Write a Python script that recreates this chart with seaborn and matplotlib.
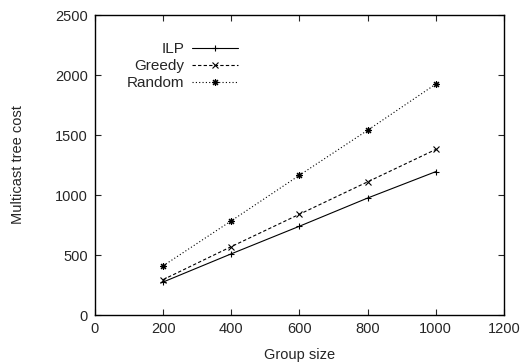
import matplotlib
matplotlib.use("Agg")
import matplotlib.pyplot as plt
import seaborn as sns
import pandas as pd

group_sizes = [200, 400, 600, 800, 1000]
ilp = [275, 510, 740, 975, 1195]
greedy = [295, 570, 840, 1110, 1380]
random_cost = [410, 785, 1165, 1540, 1925]
series_names = ["ILP", "Greedy", "Random"]

df = pd.DataFrame({
    "Group size": group_sizes * 3,
    "cost": ilp + greedy + random_cost,
    "Algorithm": [n for n in series_names for _ in group_sizes],
})

sns.set_style("ticks")
plt.rcParams["font.family"] = ["Liberation Sans", "DejaVu Sans"]
plt.rcParams["font.size"] = 10.5

fig = plt.figure(figsize=(5.23, 3.64), dpi=100)
ax = fig.add_axes([0.1816, 0.1346, 0.782, 0.824])

sns.lineplot(
    data=df, x="Group size", y="cost", hue="Algorithm", style="Algorithm",
    palette={n: "black" for n in series_names},
    markers={"ILP": "+", "Greedy": "x", "Random": (8, 2, 0)},
    dashes={"ILP": "", "Greedy": (3, 2), "Random": (1, 2)},
    linewidth=0.8, markersize=5, markeredgewidth=0.8,
    markeredgecolor="black", ax=ax,
)

ax.set_xlim(0, 1200)
ax.set_ylim(0, 2500)
ax.set_xticks(range(0, 1201, 200))
ax.set_yticks(range(0, 2501, 500))
ax.set_xlabel("Group size", fontsize=10.5, labelpad=9)
ax.set_ylabel("Multicast tree cost", fontsize=10.5, labelpad=22)
ax.tick_params(direction="in", top=True, right=True, length=4, width=0.8,
               labelsize=10.5, pad=5)
for s in ax.spines.values():
    s.set_linewidth(1.0)
    s.set_color("black")

leg = ax.legend(loc="upper right", bbox_to_anchor=(0.365, 0.93), frameon=False,
                markerfirst=False, handlelength=3.0, handletextpad=0.5,
                labelspacing=0.2, fontsize=11, borderaxespad=0)
for h in leg.legend_handles:
    h.set_markeredgecolor("black")

fig.savefig("out.png", dpi=100)
